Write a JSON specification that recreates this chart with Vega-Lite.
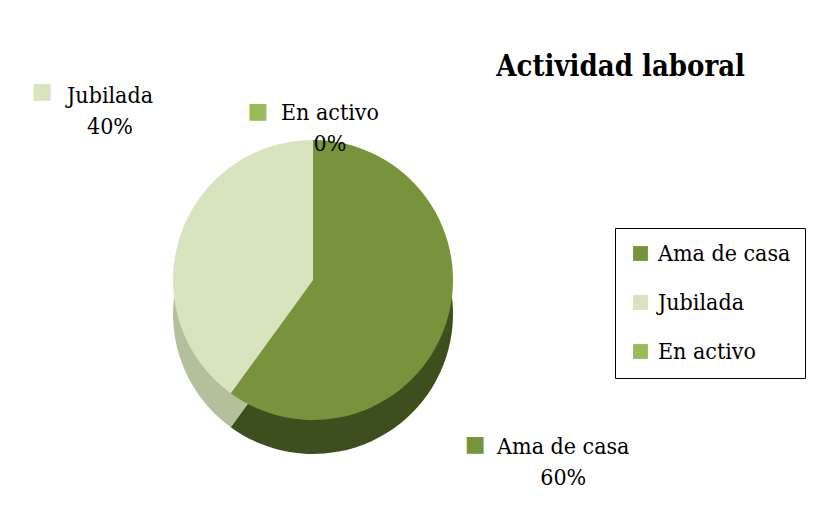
{
  "$schema": "https://vega.github.io/schema/vega-lite/v6.json",
  "width": 600,
  "height": 380,
  "autosize": {"type": "none"},
  "padding": {"left": 13, "top": 90, "right": 204, "bottom": 61},
  "background": "white",
  "title": {"text": "Actividad laboral", "orient": "none", "anchor": "end", "frame": "group", "align": "right", "baseline": "alphabetic", "font": "DejaVu Serif Condensed", "fontSize": 29, "fontWeight": "bold", "color": "black", "dx": 732, "dy": -14},
  "data": {"values": [
    {"actividad": "Ama de casa", "pct": 60, "orden": 1, "etiqueta": "Ama de casa\n60%"},
    {"actividad": "Jubilada", "pct": 40, "orden": 2, "etiqueta": "Jubilada\n40%"},
    {"actividad": "En activo", "pct": 0, "orden": 3, "etiqueta": "En activo\n0%"}
  ]},
  "encoding": {
    "theta": {"field": "pct", "type": "quantitative", "stack": true},
    "order": {"field": "orden", "type": "quantitative"}
  },
  "layer": [
    {
      "mark": {"type": "arc", "outerRadius": 140, "yOffset": 34},
      "encoding": {
        "color": {"field": "actividad", "type": "nominal", "legend": null,
          "scale": {"domain": ["Ama de casa", "Jubilada", "En activo"], "range": ["#3e4f1f", "#b3c09b", "#7d9a3f"]}}
      }
    },
    {
      "mark": {"type": "arc", "outerRadius": 140},
      "encoding": {
        "color": {"field": "actividad", "type": "nominal",
          "scale": {"domain": ["Ama de casa", "Jubilada", "En activo"], "range": ["#77933c", "#d7e4bd", "#9bbb59"]},
          "legend": {"orient": "none", "legendX": 602, "legendY": 138, "title": null, "symbolType": "square", "symbolSize": 220, "symbolStrokeWidth": 0, "labelFont": "DejaVu Serif Condensed", "labelFontSize": 23, "labelColor": "black", "strokeColor": "black", "padding": 14, "rowPadding": 25, "labelOffset": 6}}
      }
    },
    {"mark": {"type": "text", "radius": 205, "dx": -8, "dy": -121, "font": "DejaVu Serif Condensed", "fontSize": 23, "color": "black", "lineBreak": "\n", "lineHeight": 31, "align": "center", "baseline": "middle"},
     "encoding": {"text": {"condition": {"test": "datum.actividad === 'Jubilada'", "field": "etiqueta"}, "value": ""}}},
    {"mark": {"type": "text", "radius": 205, "dx": -76, "dy": -126, "font": "DejaVu Sans", "fontSize": 22, "color": "#d7e4bd", "align": "center", "baseline": "middle"},
     "encoding": {"text": {"condition": {"test": "datum.actividad === 'Jubilada'", "value": "■"}, "value": ""}}},
    {"mark": {"type": "text", "radius": 155, "dx": 17, "dy": -12, "font": "DejaVu Serif Condensed", "fontSize": 23, "color": "black", "lineBreak": "\n", "lineHeight": 31, "align": "center", "baseline": "middle"},
     "encoding": {"text": {"condition": {"test": "datum.actividad === 'En activo'", "field": "etiqueta"}, "value": ""}}},
    {"mark": {"type": "text", "radius": 155, "dx": -55, "dy": -14, "font": "DejaVu Sans", "fontSize": 22, "color": "#9bbb59", "align": "center", "baseline": "middle"},
     "encoding": {"text": {"condition": {"test": "datum.actividad === 'En activo'", "value": "■"}, "value": ""}}},
    {"mark": {"type": "text", "radius": 240, "dx": 22, "dy": 93, "font": "DejaVu Serif Condensed", "fontSize": 23, "color": "black", "lineBreak": "\n", "lineHeight": 31, "align": "center", "baseline": "middle"},
     "encoding": {"text": {"condition": {"test": "datum.actividad === 'Ama de casa'", "field": "etiqueta"}, "value": ""}}},
    {"mark": {"type": "text", "radius": 240, "dx": -66, "dy": 90, "font": "DejaVu Sans", "fontSize": 22, "color": "#77933c", "align": "center", "baseline": "middle"},
     "encoding": {"text": {"condition": {"test": "datum.actividad === 'Ama de casa'", "value": "■"}, "value": ""}}}
  ],
  "resolve": {"scale": {"color": "independent"}},
  "config": {"view": {"stroke": null}}
}
